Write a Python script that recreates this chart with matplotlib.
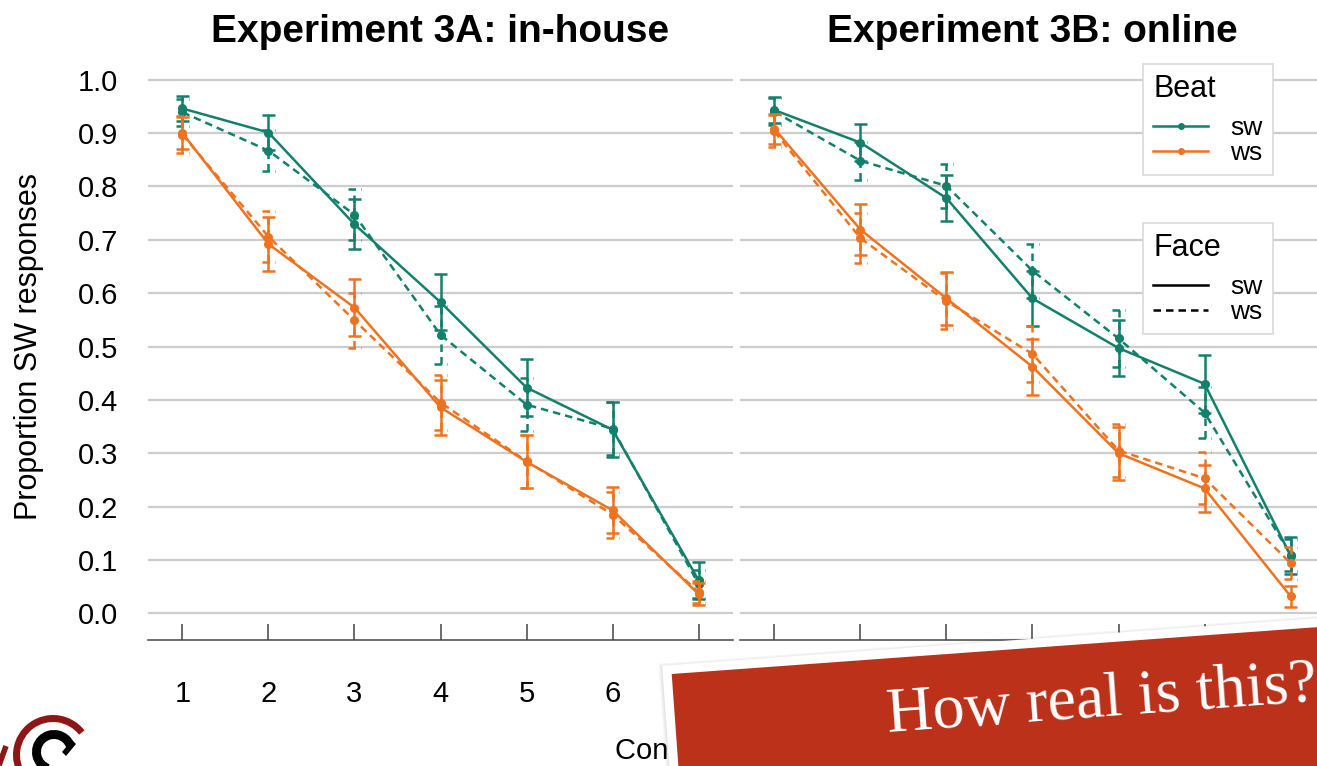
import numpy as np
import matplotlib
matplotlib.use('Agg')
import matplotlib.pyplot as plt
from matplotlib.lines import Line2D
from matplotlib.patches import Polygon, Wedge

plt.rcParams['font.family'] = ['Liberation Sans', 'DejaVu Sans']

# ---------------- data ----------------
steps = [1, 2, 3, 4, 5, 6, 7]
step_labels = ['1', '2', '3', '4', '5', '6', '7']
y_ticks = [0.0, 0.1, 0.2, 0.3, 0.4, 0.5, 0.6, 0.7, 0.8, 0.9, 1.0]
y_tick_labels = ['0.0', '0.1', '0.2', '0.3', '0.4', '0.5', '0.6', '0.7', '0.8', '0.9', '1.0']
panel_titles = ['Experiment 3A: in-house', 'Experiment 3B: online']
beat_levels = ['sw', 'ws']
face_levels = ['sw', 'ws']

# Experiment 3A (beat x face)
a_bsw_fsw = [0.946, 0.901, 0.729, 0.583, 0.423, 0.344, 0.062]
a_bsw_fsw_se = [0.024, 0.033, 0.047, 0.053, 0.054, 0.052, 0.035]
a_bsw_fws = [0.939, 0.867, 0.747, 0.522, 0.391, 0.346, 0.055]
a_bsw_fws_se = [0.025, 0.038, 0.048, 0.054, 0.050, 0.050, 0.027]
a_bws_fsw = [0.900, 0.692, 0.573, 0.386, 0.284, 0.193, 0.036]
a_bws_fsw_se = [0.030, 0.050, 0.053, 0.052, 0.050, 0.043, 0.020]
a_bws_fws = [0.897, 0.706, 0.549, 0.395, 0.285, 0.185, 0.040]
a_bws_fws_se = [0.035, 0.048, 0.052, 0.052, 0.050, 0.043, 0.020]

# Experiment 3B (beat x face)
b_bsw_fsw = [0.943, 0.882, 0.778, 0.590, 0.497, 0.430, 0.108]
b_bsw_fsw_se = [0.025, 0.035, 0.043, 0.052, 0.052, 0.054, 0.035]
b_bsw_fws = [0.940, 0.848, 0.801, 0.642, 0.515, 0.376, 0.110]
b_bsw_fws_se = [0.025, 0.036, 0.041, 0.051, 0.053, 0.048, 0.030]
b_bws_fsw = [0.908, 0.719, 0.590, 0.462, 0.300, 0.234, 0.032]
b_bws_fsw_se = [0.028, 0.048, 0.050, 0.052, 0.050, 0.044, 0.020]
b_bws_fws = [0.903, 0.703, 0.585, 0.486, 0.305, 0.253, 0.094]
b_bws_fws_se = [0.030, 0.047, 0.052, 0.052, 0.050, 0.049, 0.030]

# ---------------- style ----------------
TEAL = '#13806c'
ORANGE = '#ee7320'
DASH = (0, (3, 2))
beat_colors = {'sw': TEAL, 'ws': ORANGE}
face_styles = {'sw': '-', 'ws': DASH}
LW = 1.8

W, H = 1317, 766
fig = plt.figure(figsize=(W / 100, H / 100), dpi=100)

ax_bottom = (H - 640) / H
ax_height = (640 - 53) / H
ax_w = 585 / W
axA = fig.add_axes([148 / W, ax_bottom, ax_w, ax_height])
axB = fig.add_axes([740 / W, ax_bottom, ax_w, ax_height])

panels = [
    (axA, {('sw', 'sw'): (a_bsw_fsw, a_bsw_fsw_se), ('sw', 'ws'): (a_bsw_fws, a_bsw_fws_se),
           ('ws', 'sw'): (a_bws_fsw, a_bws_fsw_se), ('ws', 'ws'): (a_bws_fws, a_bws_fws_se)}),
    (axB, {('sw', 'sw'): (b_bsw_fsw, b_bsw_fsw_se), ('sw', 'ws'): (b_bsw_fws, b_bsw_fws_se),
           ('ws', 'sw'): (b_bws_fsw, b_bws_fsw_se), ('ws', 'ws'): (b_bws_fws, b_bws_fws_se)}),
]

cap_half = 0.075
for i, (ax, series) in enumerate(panels):
    for (beat, face), (vals, se) in series.items():
        col = beat_colors[beat]
        ls = face_styles[face]
        x = np.array(steps, dtype=float)
        v = np.array(vals)
        e = np.array(se)
        ax.plot(x, v, color=col, lw=LW, ls=ls, marker='o', ms=5.5, zorder=3)
        ax.vlines(x, v - e, v + e, colors=col, lw=LW, linestyles=ls, zorder=3)
        ax.hlines(v + e, x - cap_half, x + cap_half, colors=col, lw=LW, linestyles=ls, zorder=3)
        ax.hlines(v - e, x - cap_half, x + cap_half, colors=col, lw=LW, linestyles=ls, zorder=3)

    ax.set_xlim(0.6, 7.4)
    ax.set_ylim(-0.05, 1.05)
    ax.set_yticks(y_ticks)
    ax.set_xticks(steps)
    ax.set_xticklabels(step_labels)
    ax.yaxis.grid(True, color='#cccccc', lw=1.6, zorder=0)
    ax.set_axisbelow(True)
    for s in ['top', 'right', 'left']:
        ax.spines[s].set_visible(False)
    ax.spines['bottom'].set_color('#444444')
    ax.spines['bottom'].set_linewidth(1.1)
    ax.tick_params(axis='x', direction='in', length=11.5, width=1.1, color='#444444',
                   pad=28.5, labelsize=21, labelcolor='black')
    ax.tick_params(axis='y', length=0, pad=21.6, labelsize=21, labelcolor='black')
    if i == 0:
        ax.set_yticklabels(y_tick_labels)
        ax.set_ylabel('Proportion SW responses', fontsize=22, labelpad=24)
    else:
        ax.set_yticklabels([])
    ax.set_title(panel_titles[i], fontsize=28, fontweight='bold', pad=8)

fig.text(615 / W, 1 - 751 / H, 'Continuum step', ha='left', va='center', fontsize=21)

# ---------------- legends ----------------
def make_legend(handles, labels, title, top_px):
    leg = fig.legend(handles, labels, title=title, loc='upper left',
                     bbox_to_anchor=(1143 / W, 1 - top_px / H), bbox_transform=fig.transFigure,
                     fontsize=19, title_fontsize=22, handlelength=2.1, handletextpad=0.83,
                     borderpad=0.38, labelspacing=0.04, frameon=True, fancybox=False,
                     edgecolor='#d9d9d9', framealpha=1, alignment='left', borderaxespad=0)
    leg.get_frame().set_linewidth(1.2)
    leg._legend_box.sep = 8.5
    return leg

beat_handles = [Line2D([], [], color=beat_colors[b], lw=LW, marker='o', ms=4) for b in beat_levels]
face_handles = [Line2D([], [], color='black', lw=LW, ls=face_styles[f]) for f in face_levels]
make_legend(beat_handles, beat_levels, 'Beat', 64)
make_legend(face_handles, face_levels, 'Face', 223)

# ---------------- overlay: banner & logo ----------------
ov = fig.add_axes([0, 0, 1, 1], zorder=10)
ov.set_xlim(0, W)
ov.set_ylim(H, 0)
ov.axis('off')

th = np.deg2rad(4.15)
u = np.array([np.cos(th), -np.sin(th)])
vv = np.array([np.sin(th), np.cos(th)])

def rect(p, w, h):
    return [p, p + w * u, p + w * u + h * vv, p + h * vv]

p0 = np.array([671.7, 674.0])
for k in range(5):
    d = 9 + 1.2 * k
    ov.add_patch(Polygon(rect(p0 - d * (u + vv) + np.array([1.5, 2.5]), 900 + 2 * d, 300),
                         closed=True, fc='black', ec='none', alpha=0.035))
ov.add_patch(Polygon(rect(p0 - 9 * (u + vv), 918, 300), closed=True, fc='white', ec='none'))
ov.add_patch(Polygon(rect(p0, 900, 300), closed=True, fc='#bb311a', ec='none'))
ov.text(1102, 701, 'How real is this?', rotation=4.15, rotation_mode='anchor',
        ha='center', va='center', fontsize=46, family=['Liberation Serif', 'DejaVu Serif'],
        color='white')

# logo (bottom-left)
ov.add_patch(Wedge((53, 755), 40, 145, 322, width=7, fc='#8e1616', ec='none'))
ov.add_patch(Wedge((54, 752), 22, 110, 340, width=9, fc='black', ec='none'))
ov.add_patch(Polygon([[62, 752], [72, 740], [76, 744], [66, 756]], closed=True, fc='black', ec='none'))
ov.plot([-2, 6], [768, 746], color='#8e1616', lw=4, solid_capstyle='butt')

fig.savefig('out.png', dpi=100)
